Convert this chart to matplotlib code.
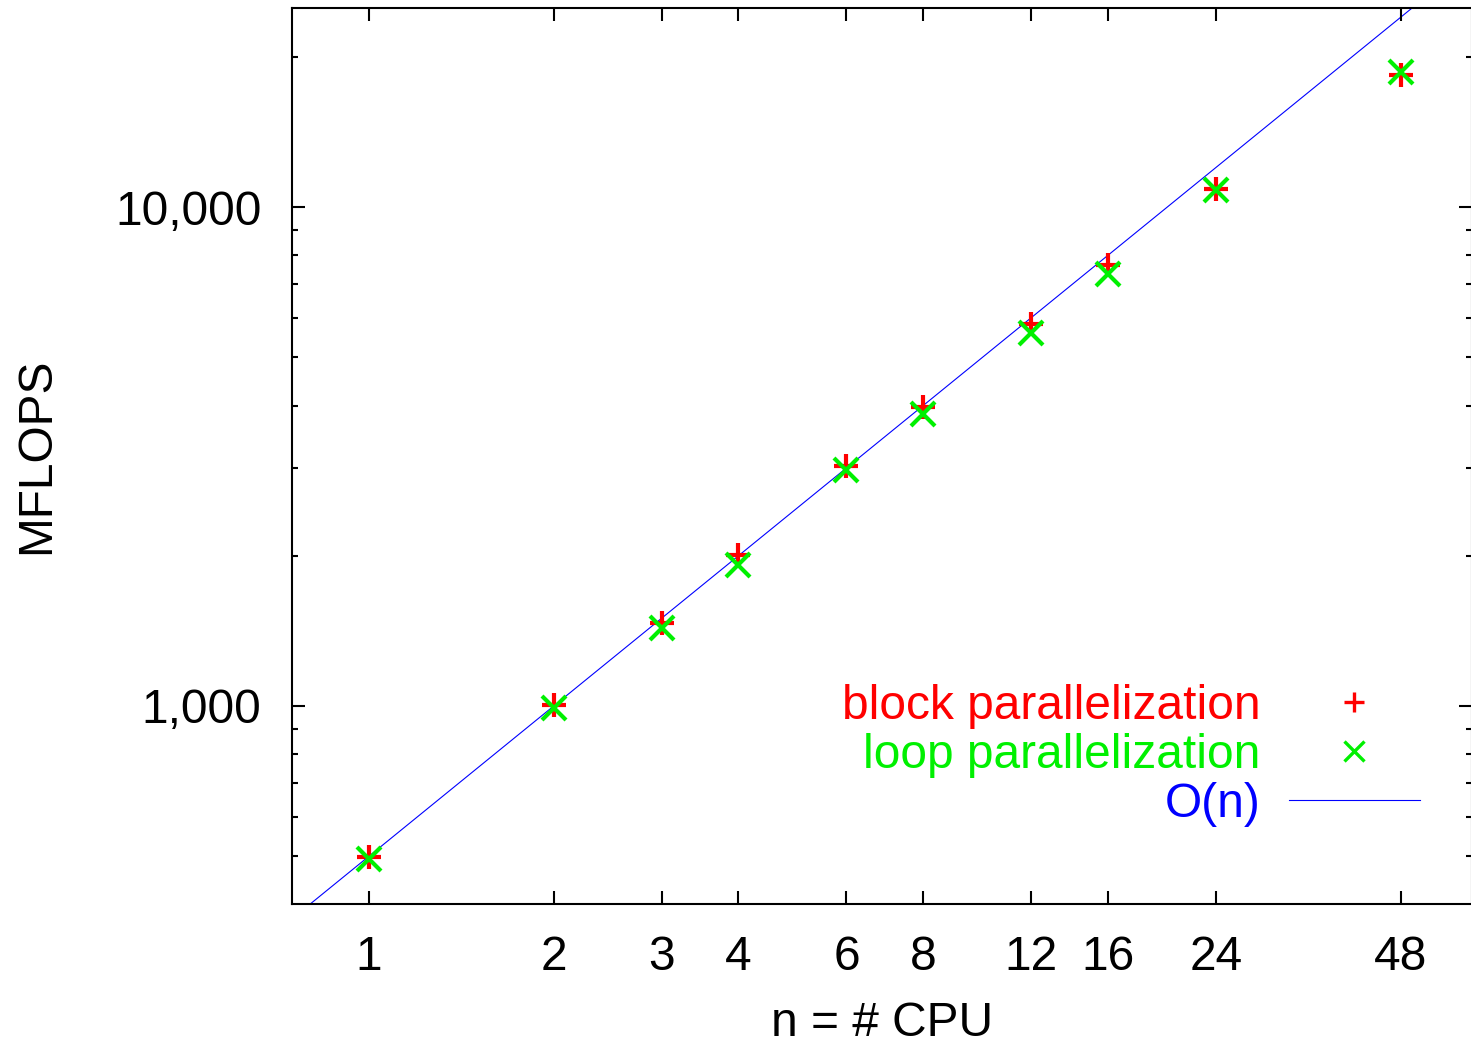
#!/usr/bin/env python

import numpy as np
import matplotlib
matplotlib.use('Agg')
import matplotlib.pyplot as plt
from matplotlib.ticker import FixedLocator, FuncFormatter, NullLocator

plt.rcParams['font.family'] = ['Liberation Sans', 'DejaVu Sans']

# number of CPUs and measured MFLOPS
ncpu = [1, 2, 3, 4, 6, 8, 12, 16, 24, 48]
block_mflops = [499, 1005, 1467, 2007, 3031, 3980, 5821, 7653, 10866, 18390]
loop_mflops = [493, 990, 1433, 1917, 2972, 3846, 5585, 7342, 10820, 18620]

# ideal linear scaling O(n), 500 MFLOPS per CPU
ideal_n = [0.7, 60]
ideal_mflops = [500 * v for v in ideal_n]

x_ticks = [1, 2, 3, 4, 6, 8, 12, 16, 24, 48]
y_ticks = [1000, 10000]
y_minor = [500, 600, 700, 800, 900, 2000, 3000, 4000, 5000, 6000, 7000, 8000, 9000, 20000]

fs = 34.5

fig = plt.figure(figsize=(14.71, 10.46), dpi=100)
ax = fig.add_axes([292 / 1471, 142 / 1046, 1 - 292 / 1471 + 0.0005, 1038 / 1046 - 142 / 1046])

ax.plot(ideal_n, ideal_mflops, color='#0000ff', lw=0.8, label='O(n)', zorder=1)
ax.plot(ncpu, block_mflops, ls='none', marker='+', ms=17, mew=3, color='#ff0000',
        label='block parallelization', zorder=2)
ax.plot(ncpu, loop_mflops, ls='none', marker='x', ms=17, mew=3, color='#00f000',
        label='loop parallelization', zorder=3)

ax.set_xscale('log')
ax.set_yscale('log')
ax.set_xlim(0.749, 62.7)
ax.set_ylim(401, 25060)

ax.xaxis.set_major_locator(FixedLocator(x_ticks))
ax.xaxis.set_major_formatter(FuncFormatter(lambda v, p: '{:d}'.format(int(round(v)))))
ax.xaxis.set_minor_locator(NullLocator())
ax.yaxis.set_major_locator(FixedLocator(y_ticks))
ax.yaxis.set_major_formatter(FuncFormatter(lambda v, p: '{:,.0f}'.format(v)))
ax.yaxis.set_minor_locator(FixedLocator(y_minor))
ax.yaxis.set_minor_formatter(FuncFormatter(lambda v, p: ''))

ax.tick_params(which='both', direction='in', top=True, right=True, width=1.5,
               labelsize=fs, color='black')
ax.tick_params(which='major', length=9.5)
ax.tick_params(which='minor', length=4.5)
ax.tick_params(axis='x', pad=22)
ax.tick_params(axis='y', pad=22)
for s in ax.spines.values():
    s.set_linewidth(1.5)

ax.set_xlabel('n = # CPU', fontsize=fs)
ax.set_ylabel('MFLOPS', fontsize=fs)
ax.xaxis.set_label_coords(0.5, -0.108)
ax.yaxis.set_label_coords(-0.197, 0.5)

handles, labels = ax.get_legend_handles_labels()
order = [1, 2, 0]
leg = ax.legend([handles[i] for i in order], [labels[i] for i in order],
                loc='lower right', bbox_to_anchor=(0.972, 0.0647),
                bbox_transform=ax.transAxes, frameon=False, markerfirst=False,
                fontsize=fs, handlelength=2.72, handletextpad=0.6,
                labelspacing=0.08, labelcolor='linecolor', borderaxespad=0)
for h in leg.legend_handles:
    h.set_markersize(14.5)
    h.set_markeredgewidth(2.4)

fig.savefig('out.png', dpi=100)
